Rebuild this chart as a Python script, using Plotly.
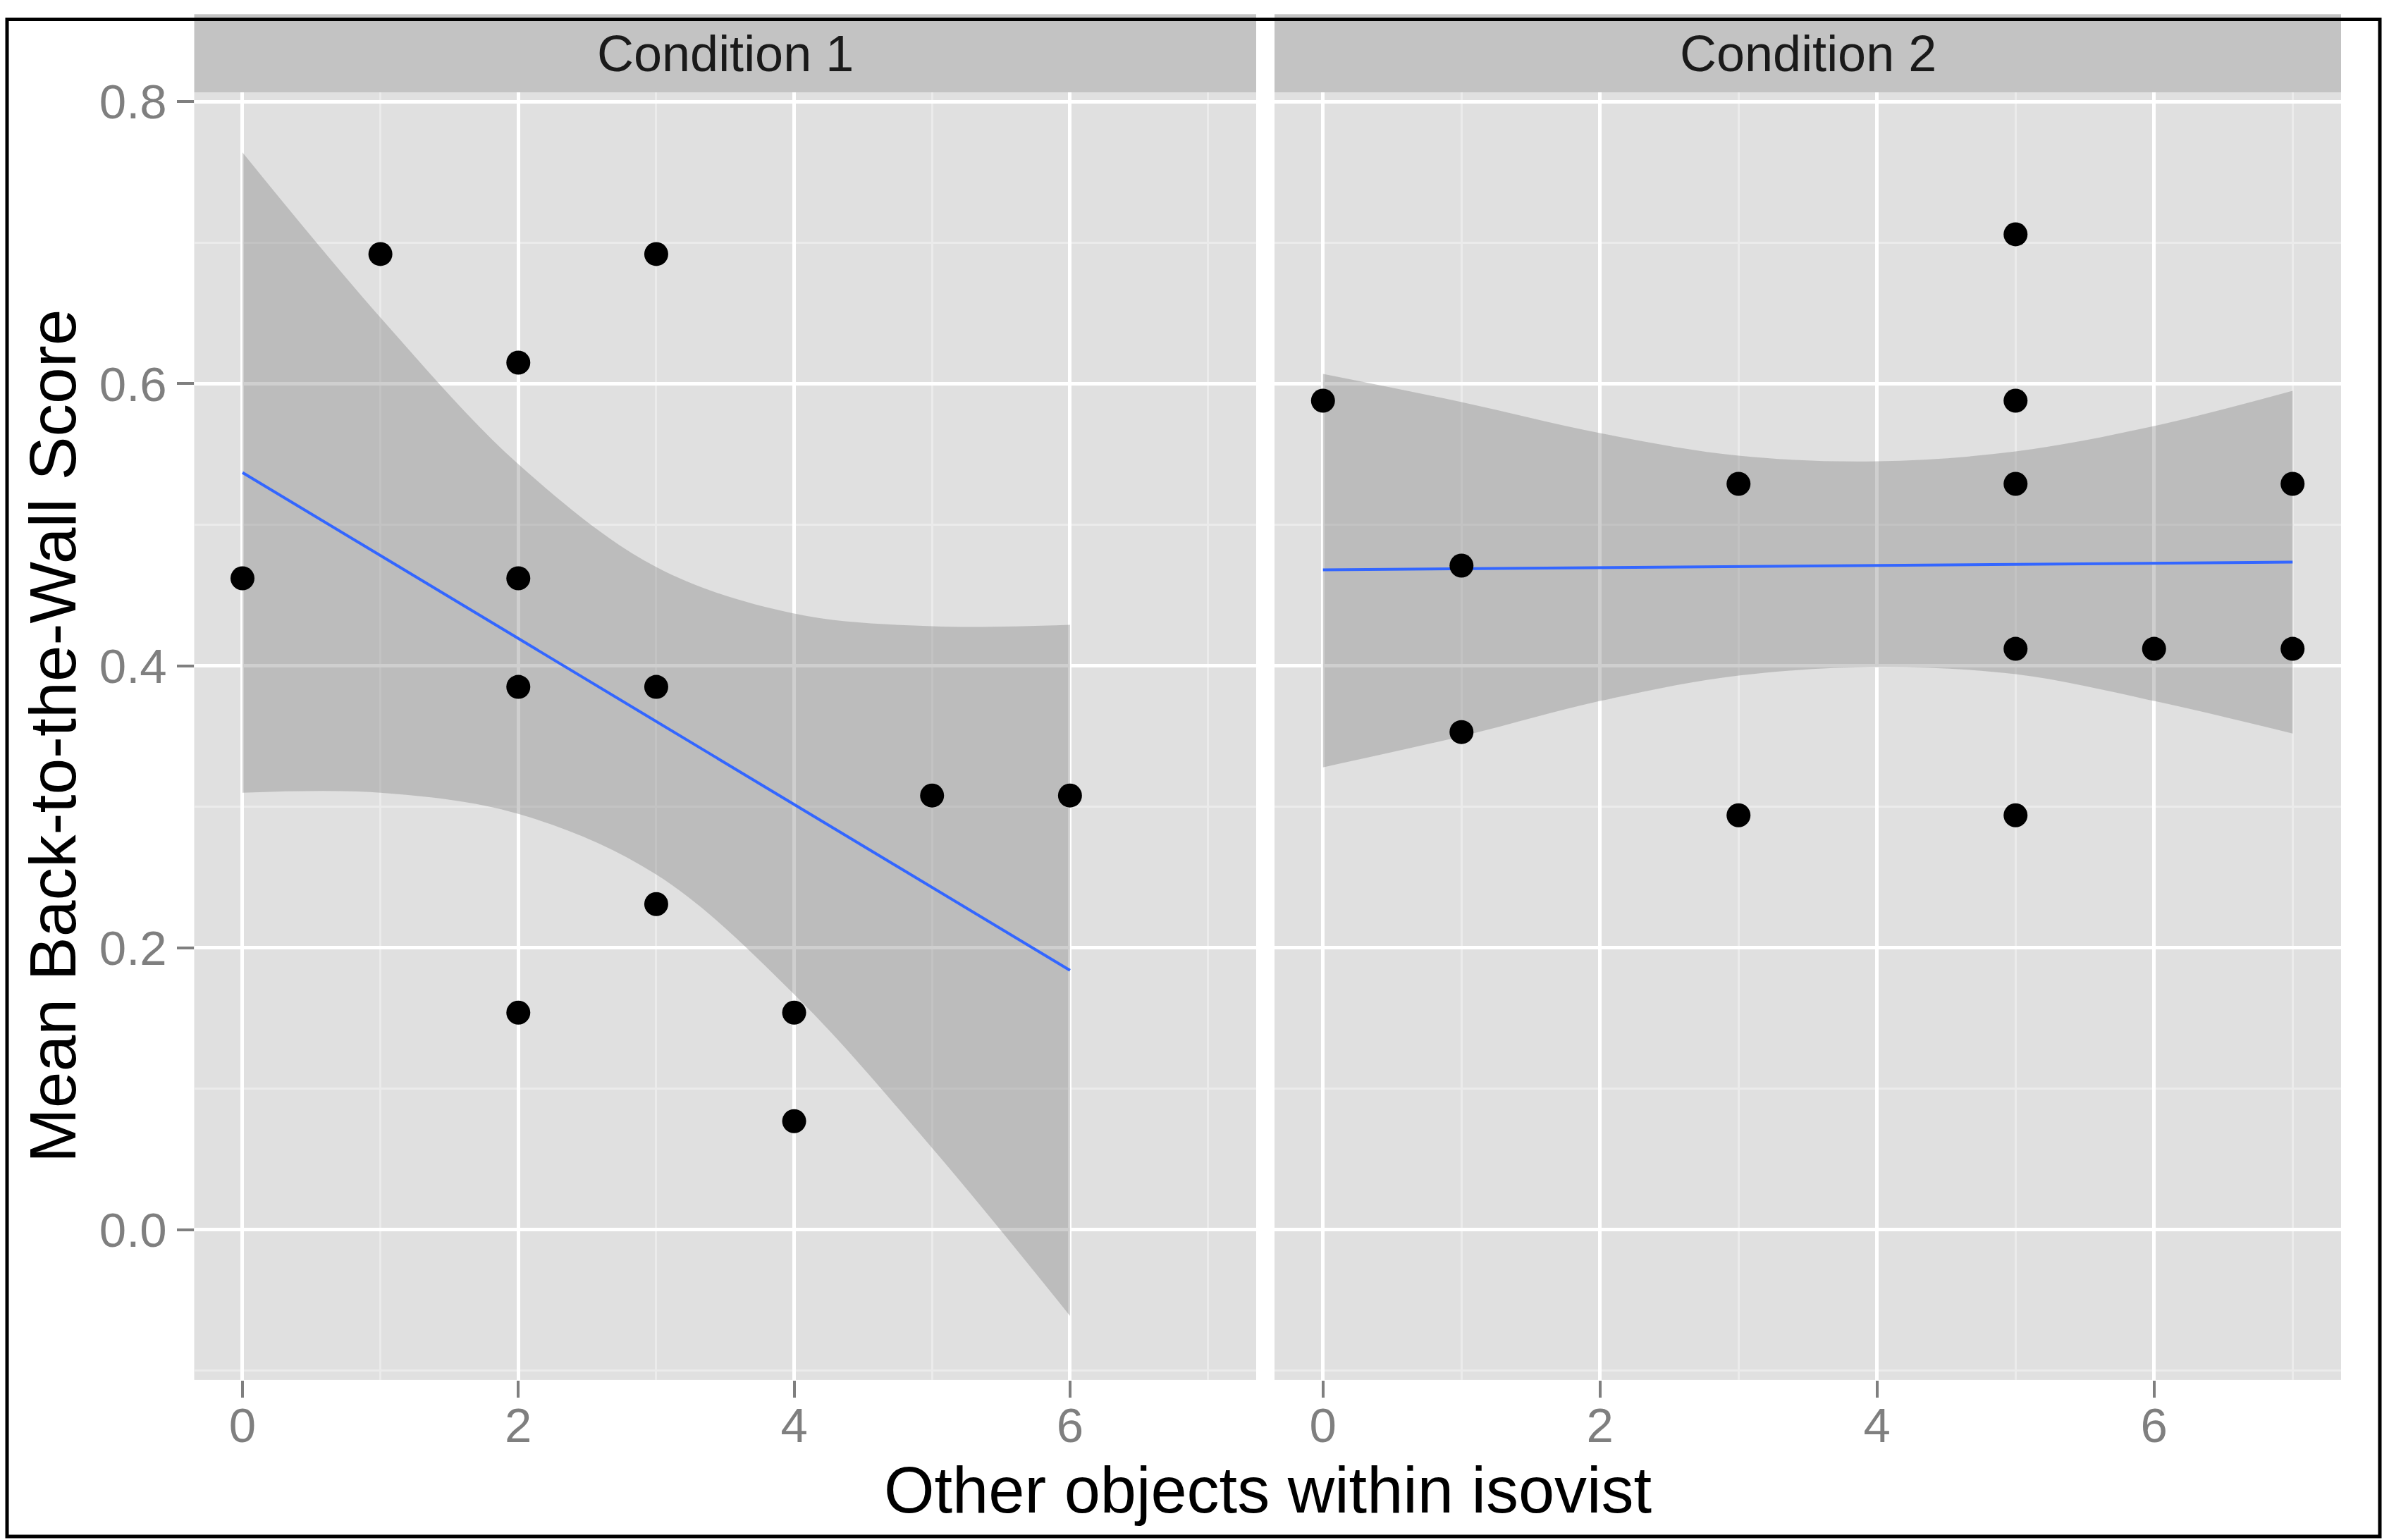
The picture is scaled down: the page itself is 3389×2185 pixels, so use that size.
import plotly.graph_objects as go

# points
cond1_x = [0, 1, 2, 2, 2, 2, 3, 3, 3, 4, 4, 5, 6]
cond1_y = [0.462, 0.692, 0.615, 0.462, 0.385, 0.154, 0.692, 0.385, 0.231, 0.154, 0.077, 0.308, 0.308]

cond2_x = [0, 1, 1, 3, 3, 5, 5, 5, 5, 5, 6, 7, 7]
cond2_y = [0.588, 0.471, 0.353, 0.529, 0.294, 0.706, 0.588, 0.529, 0.412, 0.294, 0.412, 0.529, 0.412]

# fitted line and confidence band
fit1_x = [0, 6]
fit1_y = [0.537, 0.184]
band1_x = [0, 1, 2, 3, 4, 5, 6]
band1_hi = [0.764, 0.647, 0.543, 0.470, 0.437, 0.428, 0.429]
band1_lo = [0.310, 0.310, 0.295, 0.252, 0.167, 0.058, -0.061]

fit2_x = [0, 7]
fit2_y = [0.468, 0.4735]
band2_x = [0, 1, 2, 3, 4, 5, 6, 7]
band2_hi = [0.607, 0.587, 0.565, 0.549, 0.545, 0.552, 0.570, 0.595]
band2_lo = [0.328, 0.350, 0.375, 0.393, 0.399, 0.394, 0.375, 0.352]

panel_titles = ["Condition 1", "Condition 2"]
x_title = "Other objects within isovist"
y_title = "Mean Back-to-the-Wall Score"

W, H = 3389, 2185
FONT = "Liberation Sans, Arial, sans-serif"
PANEL_BG = "#E0E0E0"
STRIP_BG = "#C3C3C3"
MINOR = "#EBEBEB"
BAND = "rgba(135,135,135,0.4)"
LINE = "#3366FF"

# the photo of the page gets a ~26px bar on top and is squeezed back to H,
# so vertical positions are mapped to page pixels
TOP_BAR = 26


def page_y(ry):
    return ry * (H + TOP_BAR) / H - TOP_BAR


def fx(px):
    return px / W


def fy(ry):
    return 1 - page_y(ry) / H


# panel geometry, reference pixels
px_left = [275.5, 1808]
px_right = [1782, 3321]
py_top, py_bot = 132, 1958
strip_top = 21

fig = go.Figure()

panels = [
    (band1_x, band1_hi, band1_lo, fit1_x, fit1_y, cond1_x, cond1_y),
    (band2_x, band2_hi, band2_lo, fit2_x, fit2_y, cond2_x, cond2_y),
]
for k, (bx, bhi, blo, lx, ly, sx, sy) in enumerate(panels):
    xa = "x" if k == 0 else "x2"
    ya = "y" if k == 0 else "y2"
    fig.add_trace(go.Scatter(x=bx, y=bhi, mode="lines", line=dict(width=0, shape="spline"),
                             xaxis=xa, yaxis=ya, hoverinfo="skip", showlegend=False))
    fig.add_trace(go.Scatter(x=bx, y=blo, mode="lines", line=dict(width=0, shape="spline"),
                             fill="tonexty", fillcolor=BAND,
                             xaxis=xa, yaxis=ya, hoverinfo="skip", showlegend=False))
    fig.add_trace(go.Scatter(x=lx, y=ly, mode="lines", line=dict(color=LINE, width=4),
                             xaxis=xa, yaxis=ya, showlegend=False))
    fig.add_trace(go.Scatter(x=sx, y=sy, mode="markers",
                             marker=dict(color="black", size=34, line=dict(width=0)),
                             xaxis=xa, yaxis=ya, showlegend=False))

xcommon = dict(range=[-0.35, 7.35], tick0=0, dtick=2, showgrid=True, gridcolor="white",
               gridwidth=5, zeroline=False, showline=False, ticks="outside", ticklen=24,
               tickwidth=4, tickcolor="#7F7F7F", ticklabelstandoff=-20,
               tickfont=dict(family=FONT, size=69, color="#7F7F7F"),
               minor=dict(dtick=1, showgrid=True, gridcolor=MINOR, gridwidth=3, ticks=""))
ycommon = dict(range=[-0.1065, 0.8065], tick0=0, dtick=0.2, tickformat=".1f", showgrid=True,
               gridcolor="white", gridwidth=5, zeroline=False, showline=False,
               minor=dict(dtick=0.1, showgrid=True, gridcolor=MINOR, gridwidth=3, ticks=""))

fig.update_layout(
    width=W, height=H,
    margin=dict(l=0, r=0, t=0, b=0),
    paper_bgcolor="white",
    plot_bgcolor=PANEL_BG,
    font=dict(family=FONT, color="black"),
    xaxis=dict(domain=[fx(px_left[0]), fx(px_right[0])], anchor="y", **xcommon),
    xaxis2=dict(domain=[fx(px_left[1]), fx(px_right[1])], anchor="y2", **xcommon),
    yaxis=dict(domain=[fy(py_bot), fy(py_top)], anchor="x", ticks="outside", ticklen=24,
               tickwidth=4, tickcolor="#7F7F7F",
               tickfont=dict(family=FONT, size=69, color="#7F7F7F"), **ycommon),
    yaxis2=dict(domain=[fy(py_bot), fy(py_top)], anchor="x2", matches="y",
                showticklabels=False, ticks="", **ycommon),
)

shapes = []
annotations = []
for k in range(2):
    shapes.append(dict(type="rect", xref="paper", yref="paper",
                       x0=fx(px_left[k]), x1=fx(px_right[k]), y0=fy(py_top), y1=fy(strip_top),
                       fillcolor=STRIP_BG, line=dict(width=0), layer="below"))
    annotations.append(dict(text=panel_titles[k], xref="paper", yref="paper",
                            x=fx((px_left[k] + px_right[k]) / 2), y=fy((strip_top + py_top) / 2),
                            xanchor="center", yanchor="middle", showarrow=False,
                            font=dict(family=FONT, size=72, color="#1A1A1A")))

# outer frame (its top edge can only go as high as the page top)
shapes.append(dict(type="rect", xref="paper", yref="paper",
                   x0=fx(10), x1=fx(3376), y0=fy(2180), y1=1 - 2.5 / H,
                   line=dict(color="black", width=5), fillcolor="rgba(0,0,0,0)"))

annotations.append(dict(text=x_title, xref="paper", yref="paper",
                        x=fx((px_left[0] + px_right[1]) / 2), y=fy(2114),
                        xanchor="center", yanchor="middle", showarrow=False,
                        font=dict(family=FONT, size=92, color="black")))
annotations.append(dict(text=y_title, xref="paper", yref="paper", textangle=-90,
                        x=fx(75), y=fy((py_top + py_bot) / 2),
                        xanchor="center", yanchor="middle", showarrow=False,
                        font=dict(family=FONT, size=93, color="black")))

fig.update_layout(shapes=shapes, annotations=annotations)

pin_plot = (
    "document.body.style.margin='0px';"
    "document.body.style.overflow='hidden';"
    "var gd=document.querySelector('.plotly-graph-div');"
    "gd.style.position='fixed';gd.style.top='0px';gd.style.left='0px';"
)
fig.write_html("out.html", config={"displayModeBar": False}, post_script=pin_plot)
